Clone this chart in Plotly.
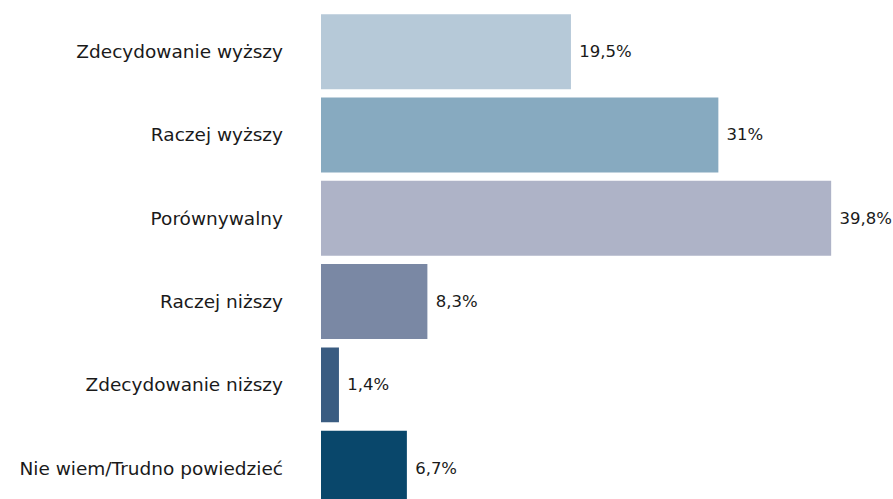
import plotly.graph_objects as go

# Survey answers, top to bottom, and their share of respondents (%)
categories = [
    "Zdecydowanie wyższy",
    "Raczej wyższy",
    "Porównywalny",
    "Raczej niższy",
    "Zdecydowanie niższy",
    "Nie wiem/Trudno powiedzieć",
]
values = [19.5, 31.0, 39.8, 8.3, 1.4, 6.7]
value_labels = ["19,5%", "31%", "39,8%", "8,3%", "1,4%", "6,7%"]
bar_colors = ["#B6C9D8", "#87AAC0", "#AEB3C7", "#7A88A4", "#3A5C81", "#09476B"]

positions = list(range(len(categories)))

fig = go.Figure(
    go.Bar(
        x=values,
        y=positions,
        orientation="h",
        marker=dict(color=bar_colors, line=dict(width=0)),
        text=[" " + t for t in value_labels],
        textposition="outside",
        textfont=dict(size=16.5, color="#1a1a1a"),
        cliponaxis=False,
        width=0.9,
    )
)

fig.update_layout(
    width=893,
    height=499,
    margin=dict(l=321, r=8, t=10, b=0),
    paper_bgcolor="white",
    plot_bgcolor="white",
    font=dict(family="DejaVu Sans, sans-serif", size=16, color="#1a1a1a"),
    showlegend=False,
    xaxis=dict(range=[0, 44], visible=False, fixedrange=True),
    yaxis=dict(
        range=[5.37, -0.5],
        tickvals=positions,
        ticktext=categories,
        showgrid=False,
        zeroline=False,
        showline=False,
        ticks="",
        ticklabelstandoff=37,
        tickfont=dict(size=18.5, color="#1a1a1a"),
    ),
)

fig.write_html("out.html")
